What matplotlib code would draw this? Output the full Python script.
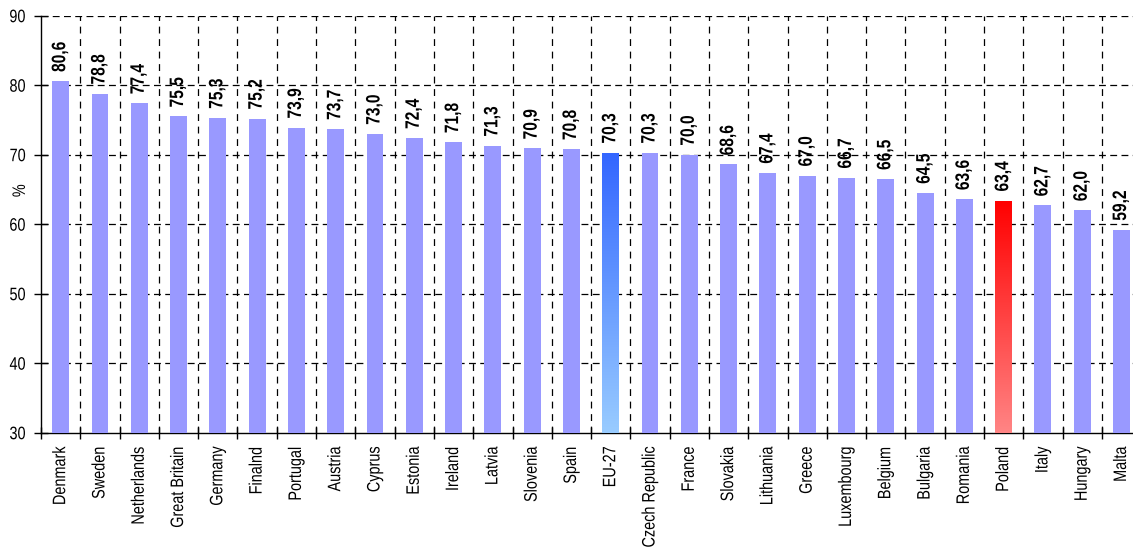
import numpy as np
import matplotlib
matplotlib.use("Agg")
import matplotlib.pyplot as plt
from matplotlib.colors import LinearSegmentedColormap
from matplotlib.patheffects import AbstractPathEffect
from matplotlib.transforms import Affine2D

countries = ["Denmark", "Sweden", "Netherlands", "Great Britain", "Germany", "Finalnd",
             "Portugal", "Austria", "Cyprus", "Estonia", "Ireland", "Latvia", "Slovenia",
             "Spain", "EU-27", "Czech Republic", "France", "Slovakia", "Lithuania", "Greece",
             "Luxembourg", "Belgium", "Bulgaria", "Romania", "Poland", "Italy", "Hungary",
             "Malta"]
values = [80.6, 78.8, 77.4, 75.5, 75.3, 75.2, 73.9, 73.7, 73.0, 72.4, 71.8, 71.3, 70.9,
          70.8, 70.3, 70.3, 70.0, 68.6, 67.4, 67.0, 66.7, 66.5, 64.5, 63.6, 63.4, 62.7,
          62.0, 59.2]
yticks = [30, 40, 50, 60, 70, 80, 90]

# bars with a vertical gradient (top colour, bottom colour)
gradients = {
    "EU-27": ("#3366FF", "#99CCFF"),
    "Poland": ("#FF0000", "#FF8585"),
}


class Narrow(AbstractPathEffect):
    """Squeeze glyphs along the text direction (narrow Arial look)."""

    def __init__(self, sx=0.82, keep="start"):
        super().__init__()
        self.sx = sx
        self.keep = keep

    def draw_path(self, renderer, gc, tpath, affine, rgbFace=None):
        xs = tpath.vertices[:, 0]
        x0 = xs.min() if self.keep == "start" else xs.max()
        t = Affine2D().translate(-x0, 0).scale(self.sx, 1).translate(x0, 0) + affine
        renderer.draw_path(gc, tpath, t, rgbFace)


plt.rcParams['font.family'] = ['Liberation Sans', 'DejaVu Sans']

fig = plt.figure(figsize=(11.33, 5.5), dpi=100)
ax = fig.add_axes([0.0362, 0.2133, 0.971, 0.7582])

x = np.arange(len(countries))
bars = ax.bar(x, values, width=0.43, bottom=0, color="#9999FF", zorder=3)

for bar, name in zip(bars, countries):
    if name in gradients:
        top, bottom = gradients[name]
        cmap = LinearSegmentedColormap.from_list(name, [bottom, top])
        bar.set_facecolor("none")
        x0, w, h = bar.get_x(), bar.get_width(), bar.get_height()
        grad = np.linspace(0, 1, 256).reshape(-1, 1)
        im = ax.imshow(grad, cmap=cmap, origin="lower", aspect="auto",
                       extent=[x0, x0 + w, 30, h], zorder=3)
        im.set_clip_path(bar)

for xi, v in zip(x, values):
    ax.annotate(f"{v:.1f}".replace(".", ","), (xi, v), xytext=(0, 6.5),
                textcoords="offset points", rotation=90, ha="center", va="bottom",
                fontsize=14, fontweight="bold",
                path_effects=[Narrow(0.8, "start")])

ax.set_xlim(-0.5, len(countries) - 0.5)
ax.set_ylim(30, 90)
ax.set_yticks(yticks)
ax.tick_params(axis="y", labelsize=13, direction="inout", length=10, width=1, pad=6)

# category labels centred, tick marks on the boundaries
ax.set_xticks(x)
ax.set_xticklabels(countries, rotation=90, fontsize=13)
ax.tick_params(axis="x", which="major", length=0, pad=10)
ax.set_xticks(np.arange(len(countries) + 1) - 0.5, minor=True)
ax.tick_params(axis="x", which="minor", direction="inout", length=8, width=1)

for lbl in ax.get_xticklabels() + ax.get_yticklabels():
    lbl.set_path_effects([Narrow(0.8, "end")])

for yv in yticks[1:]:
    ax.axhline(yv, color="black", lw=0.9, ls=(0, (5.5, 3.5)), zorder=1)
for xb in np.arange(1, len(countries) + 1) - 0.5:
    ax.axvline(xb, color="black", lw=0.9, ls=(0, (5.5, 4.5)), zorder=1)

for side in ("top", "right"):
    ax.spines[side].set_visible(False)
ax.spines["left"].set_linewidth(1)
ax.spines["bottom"].set_linewidth(1)

ax.set_ylabel("%", fontsize=13, path_effects=[Narrow(0.8, "start")])
ax.yaxis.set_label_coords(-0.011, 0.584)

fig.savefig("out.png", dpi=100)
